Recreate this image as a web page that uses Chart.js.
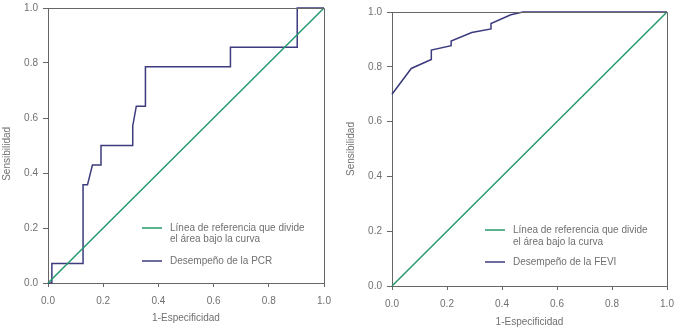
<!DOCTYPE html>
<html>
<head>
<meta charset="utf-8">
<script src="https://cdn.jsdelivr.net/npm/chart.js@4.4.0/dist/chart.umd.min.js"></script>
<style>
  html, body { margin: 0; padding: 0; background: #fff; }
  #wrap { position: relative; width: 675px; height: 329px; }
  canvas { position: absolute; top: 0; }
</style>
</head>
<body>
<div id="wrap">
  <canvas id="pcrChart" width="337" height="329" style="left:0"></canvas>
  <canvas id="feviChart" width="338" height="329" style="left:337px"></canvas>
</div>
<script>
/* =====================
  Data
===================== */
var axisTicks = [0, 0.2, 0.4, 0.6, 0.8, 1.0]

var refX = [0, 1]
var refY = [0, 1]

var pcrX = [0, 0.014, 0.014, 0.127, 0.127, 0.143, 0.161, 0.192, 0.192, 0.307, 0.307, 0.320, 0.353, 0.353, 0.661, 0.661, 0.903, 0.903, 1.0]
var pcrY = [0, 0, 0.071, 0.071, 0.357, 0.357, 0.429, 0.429, 0.5, 0.5, 0.571, 0.643, 0.643, 0.786, 0.786, 0.857, 0.857, 1.0, 1.0]

var feviX = [0, 0.070, 0.143, 0.143, 0.215, 0.215, 0.290, 0.360, 0.360, 0.432, 0.476, 1.0]
var feviY = [0.700, 0.794, 0.827, 0.861, 0.877, 0.894, 0.925, 0.938, 0.958, 0.990, 1.0, 1.0]

var refLabel = 'Línea de referencia que divide\nel área bajo la curva'
var pcrLabel = 'Desempeño de la PCR'
var feviLabel = 'Desempeño de la FEVI'
var xTitle = '1-Especificidad'
var yTitle = 'Sensibilidad'

/* =====================
  Styles
===================== */
var greenLine = '#27986b'
var navyLine = '#3b3b7e'
var frameColor = '#666666'
var textColor = '#707070'
var fontFamily = '"Liberation Sans", Arial, Helvetica, sans-serif'

Chart.defaults.font.family = fontFamily
Chart.defaults.font.size = 10

var toPoints = function (xs, ys) {
  return xs.map(function (x, i) { return {x: x, y: ys[i]} })
}

// top/right frame lines + the legend inside the plot
var frameAndKey = {
  id: 'frameAndKey',
  afterDraw: function (chart, args, opts) {
    var ctx = chart.ctx
    var a = chart.chartArea
    ctx.save()
    ctx.strokeStyle = frameColor
    ctx.lineWidth = 1
    ctx.beginPath()
    ctx.moveTo(Math.round(a.left), Math.round(a.top) + 0.5)
    ctx.lineTo(Math.round(a.right) + 0.5, Math.round(a.top) + 0.5)
    ctx.lineTo(Math.round(a.right) + 0.5, Math.round(a.bottom))
    ctx.stroke()

    var y = a.bottom + opts.firstY
    ctx.font = '10px ' + fontFamily
    ctx.textBaseline = 'middle'
    ctx.textAlign = 'left'
    chart.data.datasets.forEach(function (ds) {
      var lines = ds.label.split('\n')
      ctx.strokeStyle = ds.borderColor
      ctx.lineWidth = ds.borderWidth
      ctx.beginPath()
      ctx.moveTo(a.left + opts.sampleX, y)
      ctx.lineTo(a.left + opts.sampleX + opts.sampleW, y)
      ctx.stroke()
      ctx.fillStyle = textColor
      lines.forEach(function (t, i) {
        ctx.fillText(t, a.left + opts.textX, y + i * opts.lineH)
      })
      y += lines.length * opts.lineH + opts.gap
    })
    ctx.restore()
  }
}

var makeRoc = function (canvasId, curveLabel, curveX, curveY, box) {
  var ctx = document.getElementById(canvasId).getContext('2d')
  return new Chart(ctx, {
    type: 'scatter',
    data: {
      datasets: [{
        label: refLabel,
        data: toPoints(refX, refY),
        showLine: true,
        borderColor: greenLine,
        borderWidth: 1.5,
        pointRadius: 0,
        clip: 4
      }, {
        label: curveLabel,
        data: toPoints(curveX, curveY),
        showLine: true,
        borderColor: navyLine,
        borderWidth: 1.5,
        pointRadius: 0,
        clip: 4
      }]
    },
    options: {
      responsive: false,
      animation: false,
      devicePixelRatio: 1,
      layout: {padding: {top: box.top, right: box.right, left: 0, bottom: 0}},
      plugins: {
        legend: {display: false},
        tooltip: {enabled: false},
        frameAndKey: box.key
      },
      scales: {
        x: {
          type: 'linear',
          min: 0,
          max: 1,
          afterBuildTicks: function (s) { s.ticks = axisTicks.map(function (v) { return {value: v} }) },
          afterFit: function (s) { s.height = box.xHeight; s.paddingLeft = 0; s.paddingRight = 0 },
          ticks: {color: textColor, padding: 8, callback: function (v) { return v.toFixed(1) }},
          grid: {drawOnChartArea: false, tickLength: 4, color: frameColor},
          border: {color: frameColor, width: 1},
          title: {display: true, text: xTitle, color: textColor, padding: {top: 0, bottom: box.xTitlePad}}
        },
        y: {
          type: 'linear',
          min: 0,
          max: 1,
          afterBuildTicks: function (s) { s.ticks = axisTicks.map(function (v) { return {value: v} }) },
          afterFit: function (s) { s.width = box.yWidth; s.paddingTop = 0; s.paddingBottom = 0 },
          ticks: {color: textColor, padding: 5, callback: function (v) { return v.toFixed(1) }},
          grid: {drawOnChartArea: false, tickLength: 5, color: frameColor},
          border: {color: frameColor, width: 1},
          title: {display: true, text: box.yText, color: textColor, padding: {top: box.yTitlePad, bottom: 0}}
        }
      }
    },
    plugins: [frameAndKey]
  })
}

var pcrChart = makeRoc('pcrChart', pcrLabel, pcrX, pcrY, {
  top: 8, right: 13, xHeight: 46, yWidth: 48, xTitlePad: 5, yTitlePad: 1.5,
  yText: yTitle + '      ',
  key: {firstY: -55, sampleX: 94, sampleW: 20, textX: 122, lineH: 11.5, gap: 10}
})

var feviChart = makeRoc('feviChart', feviLabel, feviX, feviY, {
  top: 12, right: 8, xHeight: 43, yWidth: 55, xTitlePad: 1, yTitlePad: 8.5,
  yText: yTitle,
  key: {firstY: -56, sampleX: 93, sampleW: 20, textX: 121, lineH: 12, gap: 8}
})
</script>
</body>
</html>
